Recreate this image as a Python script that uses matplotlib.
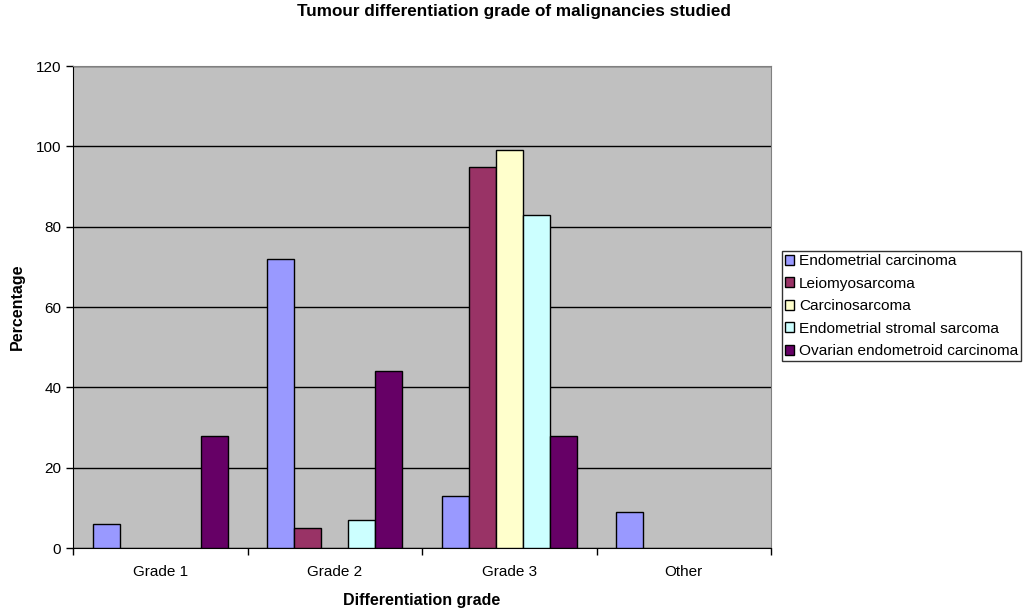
import matplotlib
matplotlib.use('Agg')
import matplotlib.pyplot as plt
import numpy as np

plt.rcParams['font.family'] = ['Liberation Sans', 'DejaVu Sans']

categories = ['Grade 1', 'Grade 2', 'Grade 3', 'Other']
series = ['Endometrial carcinoma', 'Leiomyosarcoma', 'Carcinosarcoma',
          'Endometrial stromal sarcoma', 'Ovarian endometroid carcinoma']
endometrial = [6, 72, 13, 9]
leiomyosarcoma = [0, 5, 95, 0]
carcinosarcoma = [0, 0, 99, 0]
stromal = [0, 7, 83, 0]
ovarian = [28, 44, 28, 0]
values = [endometrial, leiomyosarcoma, carcinosarcoma, stromal, ovarian]
colors = ['#9999FF', '#993366', '#FFFFCC', '#CCFFFF', '#660066']

fig = plt.figure(figsize=(10.27, 6.1), dpi=100)
ax = fig.add_axes([0.0711, 0.1016, 0.6797, 0.790])
ax.set_facecolor('#C0C0C0')

x = np.arange(len(categories))
w = 0.155
for i, (name, vals, c) in enumerate(zip(series, values, colors)):
    # zero values are not drawn at all in the original
    h = np.array(vals, dtype=float)
    h[h == 0] = np.nan
    ax.bar(x + (i - 2) * w, h, w, color=c, edgecolor='black', linewidth=1,
           label=name, zorder=3)

ax.set_xlim(-0.5, 3.5)
ax.set_ylim(0, 120)
ax.set_yticks(range(0, 121, 20))
ax.yaxis.grid(True, color='black', linewidth=1, zorder=1)
ax.set_axisbelow(True)

ax.set_xticks(np.arange(-0.5, 4, 1))
ax.set_xticklabels([])
ax.set_xticks(x, minor=True)
ax.set_xticklabels(categories, minor=True)
ax.tick_params(axis='x', which='minor', length=0, pad=12, labelsize=11)
ax.tick_params(axis='x', which='major', length=5, width=1, color='black')
ax.tick_params(axis='y', length=5, width=1, labelsize=11)

for s in ['top', 'right']:
    ax.spines[s].set_color('#808080')
for s in ['left', 'bottom']:
    ax.spines[s].set_color('black')

ax.set_xlabel('Differentiation grade', fontsize=11.5, fontweight='bold', labelpad=10)
ax.set_ylabel('Percentage', fontsize=11.5, fontweight='bold', labelpad=8)
fig.suptitle('Tumour differentiation grade of malignancies studied',
             fontsize=12.3, fontweight='bold', x=0.5, y=0.993, va='top')

leg = fig.legend(loc='center left', bbox_to_anchor=(0.761, 0.498), fontsize=11.1,
                 frameon=True, fancybox=False, edgecolor='black',
                 handlelength=0.64, handleheight=0.64, handletextpad=0.3,
                 borderpad=0.2, labelspacing=0.55, borderaxespad=0)
leg.get_frame().set_linewidth(1)

fig.savefig('out.png', dpi=100)
